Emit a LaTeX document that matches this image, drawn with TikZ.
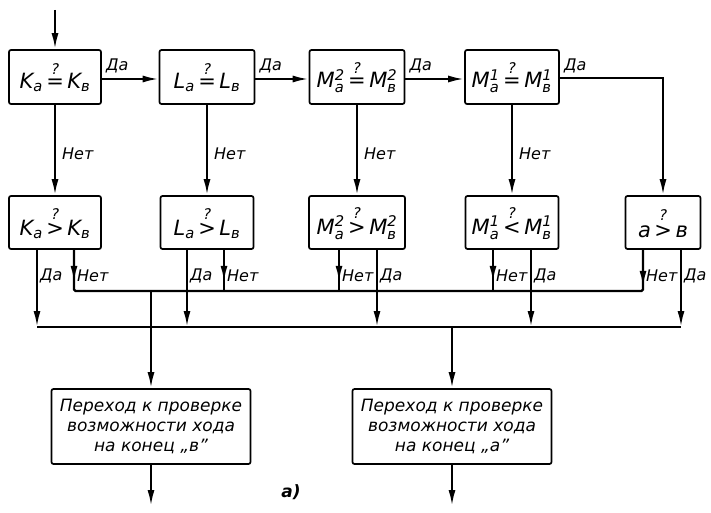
\RequirePackage{fix-cm}
\documentclass[tikz,border=0pt]{standalone}
\usepackage{fontspec}
\setmainfont{DejaVu Sans}
\usepackage{amsmath}
\usetikzlibrary{arrows.meta}
\newcommand{\sbt}[1]{$_{\text{#1}}$}
\newcommand{\ssb}[2]{$^{\text{#1}}_{\text{#2}}$}
\newcommand{\qrel}[1]{$\mathrel{\overset{\text{?}}{\text{#1}}}$}
\newcommand{\boxfont}{\itshape\fontsize{21}{24}\selectfont}
\newcommand{\lblfont}{\itshape\fontsize{16}{18}\selectfont}
\newcommand{\btfont}{\itshape\fontsize{17}{20}\selectfont}
\begin{document}
\begin{tikzpicture}[x=1pt,y=-1pt,
  box/.style={draw, line width=1.7pt, rounded corners=2pt, inner sep=0pt, font=\boxfont},
  tbox/.style={box, minimum height=54pt},
  sbox/.style={box, minimum height=53pt},
  cbox/.style={box, minimum width=199pt, minimum height=75pt, align=center, font=\btfont},
  arr/.style={line width=2.2pt, -{Latex[length=16pt,width=7pt]}},
  ln/.style={line width=2.2pt},
  lbl/.style={font=\lblfont, inner sep=0pt}]
\useasboundingbox (0,0) rectangle (711,513);
% top row
\node[tbox, minimum width=92pt] (t1) at (55,77) {K\sbt{а}\,\qrel{=}\,K\sbt{в}};
\node[tbox, minimum width=95pt] (t2) at (207,77) {L\sbt{а}\,\qrel{=}\,L\sbt{в}};
\node[tbox, minimum width=95pt] (t3) at (357,77) {M\ssb{2}{а}\,\qrel{=}\,M\ssb{2}{в}};
\node[tbox, minimum width=94pt] (t4) at (512,77) {M\ssb{1}{а}\,\qrel{=}\,M\ssb{1}{в}};
% second row
\node[sbox, minimum width=92pt] (b1) at (55,222.5) {K\sbt{а}\,\qrel{>}\,K\sbt{в}};
\node[sbox, minimum width=93pt] (b2) at (207,222.5) {L\sbt{а}\,\qrel{>}\,L\sbt{в}};
\node[sbox, minimum width=96pt] (b3) at (357,222.5) {M\ssb{2}{а}\,\qrel{>}\,M\ssb{2}{в}};
\node[sbox, minimum width=93pt] (b4) at (512,222.5) {M\ssb{1}{а}\,\qrel{<}\,M\ssb{1}{в}};
\node[sbox, minimum width=75pt] (b5) at (663,222.5) {а\,\qrel{>}\,в};
% bottom boxes
\node[cbox] (c1) at (151,426.5) {Переход к проверке\\возможности хода\\на конец „в”};
\node[cbox] (c2) at (452,426.5) {Переход к проверке\\возможности хода\\на конец „а”};
% input
\coordinate (in) at (55,10);
\draw[arr] (in) -- (t1);
% Да chain
\draw[arr] ([yshift=-2pt]t1.east) -- ([yshift=-2pt]t2.west);
\draw[arr] ([yshift=-2pt]t2.east) -- ([yshift=-2pt]t3.west);
\draw[arr] ([yshift=-2pt]t3.east) -- ([yshift=-2pt]t4.west);
\draw[arr] ([yshift=-1pt]t4.east) -| (b5.north);
\node[lbl, anchor=base west] (ld1) at ([xshift=4pt,yshift=6pt]t1.east) {Да};
\node[lbl, anchor=base west] (ld2) at ([xshift=4pt,yshift=6pt]t2.east) {Да};
\node[lbl, anchor=base west] (ld3) at ([xshift=4pt,yshift=6pt]t3.east) {Да};
\node[lbl, anchor=base west] (ld4) at ([xshift=4pt,yshift=6pt]t4.east) {Да};
% Нет down
\foreach \i in {1,2,3,4}{
  \draw[arr] (t\i) -- (b\i);
  \path (t\i.south) -- (b\i.north) node[pos=0.54, right=7pt, lbl] {Нет};
}
% outputs of second row
\coordinate (n1) at ([xshift=19pt]b1.south);
\coordinate (y1) at ([xshift=-18pt]b1.south);
\coordinate (y2) at ([xshift=-20pt]b2.south);
\coordinate (n2) at ([xshift=17pt]b2.south);
\coordinate (n3) at ([xshift=-18pt]b3.south);
\coordinate (y3) at ([xshift=20pt]b3.south);
\coordinate (n4) at ([xshift=-19pt]b4.south);
\coordinate (y4) at ([xshift=19pt]b4.south);
\coordinate (n5) at ([xshift=-20pt]b5.south);
\coordinate (y5) at ([xshift=18pt]b5.south);
\coordinate (bus1) at (151,291);
\coordinate (bus2) at (452,327);
% Нет bus
\draw[ln, rounded corners=1.5pt] (n1) |- (bus1) -| (n5);
\foreach \k in {2,3,4}{\draw[ln] (n\k) -- (n\k |- bus1);}
\foreach \k in {1,2,3,4}{\draw[arr] (n\k) -- ++(0,32);}
\draw[arr] (n5) -- ++(0,37);
% Да bus
\draw[ln] (y1 |- bus2) -- (y5 |- bus2);
\foreach \k in {1,2,3,4,5}{\draw[arr] (y\k) -- (y\k |- bus2);}
% labels under second row
\foreach \k in {1,2,3,4,5}{
  \node[lbl, anchor=west] at ([xshift=3pt,yshift=-26pt]n\k) {Нет};
  \node[lbl, anchor=west] at ([xshift=3pt,yshift=-26pt]y\k) {Да};
}
% to bottom boxes
\draw[arr] (bus1) -- (c1);
\draw[arr] (bus2) -- (c2);
\coordinate (o1) at (151,506);
\coordinate (o2) at (452,506);
\draw[arr] (c1) -- (o1);
\draw[arr] (c2) -- (o2);
\node[font=\bfseries\itshape\fontsize{17}{17}\selectfont, inner sep=0pt] (alab) at (291,492) {а)};
\end{tikzpicture}
\end{document}
